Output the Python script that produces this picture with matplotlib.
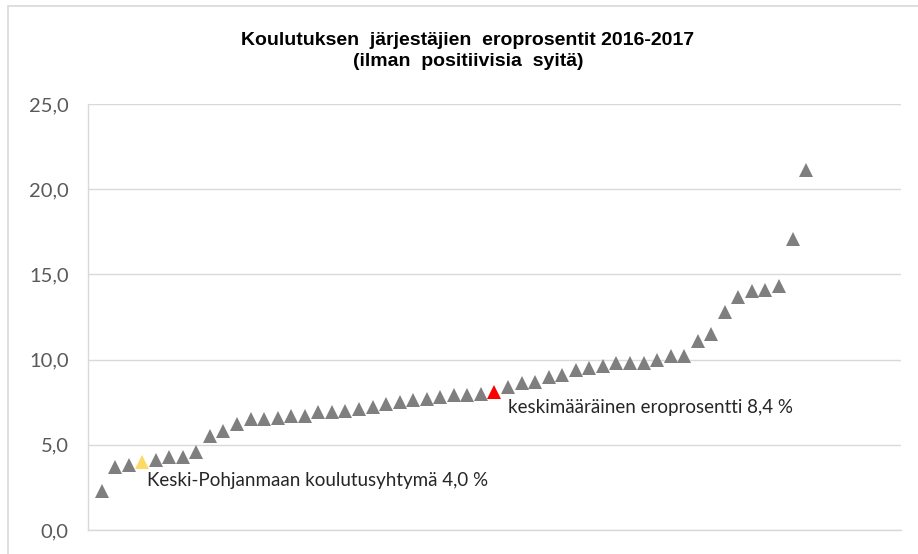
import matplotlib.pyplot as plt
from matplotlib.patches import Rectangle

# dropout percentage per education provider, sorted ascending
drop_rates = [
    2.3, 3.7, 3.8, 4.0, 4.1, 4.3, 4.3, 4.6, 5.5, 5.8,
    6.2, 6.5, 6.5, 6.6, 6.7, 6.7, 6.9, 6.9, 7.0, 7.1,
    7.2, 7.4, 7.5, 7.6, 7.7, 7.8, 7.9, 7.9, 8.0, 8.1,
    8.4, 8.6, 8.7, 9.0, 9.1, 9.4, 9.5, 9.6, 9.8, 9.8,
    9.8, 10.0, 10.2, 10.2, 11.1, 11.5, 12.8, 13.7, 14.0, 14.1,
    14.3, 17.1, 21.1,
]
provider_idx = list(range(1, len(drop_rates) + 1))

highlight_idx = 4    # Keski-Pohjanmaan koulutusyhtymä
average_idx = 30     # average marker

y_ticks = [0, 5, 10, 15, 20, 25]
y_tick_labels = ["0,0", "5,0", "10,0", "15,0", "20,0", "25,0"]

title = "Koulutuksen  järjestäjien  eroprosentit 2016-2017\n(ilman  positiivisia  syitä)"
label_highlight = "Keski-Pohjanmaan koulutusyhtymä 4,0 %"
label_average = "keskimääräinen eroprosentti 8,4 %"

GREY = "#7f7f7f"
GRID = "#d9d9d9"

fig = plt.figure(figsize=(9.18, 5.54), dpi=100)
fig.patches.append(
    Rectangle((8 / 918, -0.1), 1.2, 1 - 6 / 554 + 0.1, transform=fig.transFigure,
              fill=False, edgecolor=GRID, linewidth=1.2)
)

ax = fig.add_axes([88 / 918, 1 - 530 / 554, (901 - 88) / 918, (530 - 104) / 554])

others = [i for i in provider_idx if i not in (highlight_idx, average_idx)]
ax.plot(others, [drop_rates[i - 1] for i in others], "^", color=GREY,
        markersize=9.5, markeredgewidth=0, zorder=3)
ax.plot([highlight_idx], [drop_rates[highlight_idx - 1]], "^", color="#ffd966",
        markersize=9.5, markeredgewidth=0, zorder=3)
ax.plot([average_idx], [drop_rates[average_idx - 1]], "^", color="#ff0000",
        markersize=9.5, markeredgewidth=0, zorder=3)

ax.annotate(label_highlight, xy=(highlight_idx, drop_rates[highlight_idx - 1]),
            xytext=(5, -19), textcoords="offset pixels", ha="left", va="center",
            fontsize=13.5, family="Lato", color="#262626")
ax.annotate(label_average, xy=(average_idx, drop_rates[average_idx - 1]),
            xytext=(14, -16), textcoords="offset pixels", ha="left", va="center",
            fontsize=13.5, family="Lato", color="#262626")

ax.set_xlim(0, 60)
ax.set_ylim(0, 25)
ax.set_yticks(y_ticks)
ax.set_yticklabels(y_tick_labels, family="Lato", fontsize=14.5, color="#595959")
ax.set_xticks([])
ax.tick_params(axis="y", length=0, pad=14)
ax.grid(axis="y", color=GRID, linewidth=1.0)
ax.set_axisbelow(True)
for side in ("top", "right"):
    ax.spines[side].set_visible(False)
for side in ("left", "bottom"):
    ax.spines[side].set_color(GRID)
    ax.spines[side].set_linewidth(1.0)

fig.text(468 / 918, 1 - 51 / 554, title, ha="center", va="center",
         family="Liberation Sans", fontweight="bold", fontsize=14,
         linespacing=1.35, color="#000000")

fig.savefig("out.png", dpi=100)
